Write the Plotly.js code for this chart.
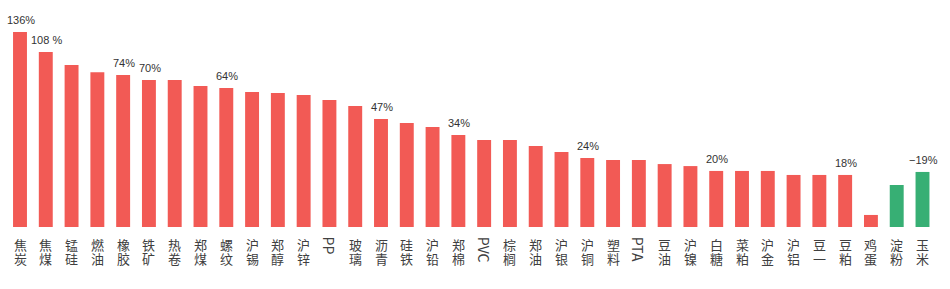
<!DOCTYPE html>
<html>
<head>
<meta charset="utf-8">
<script src="https://cdn.plot.ly/plotly-3.0.1.min.js"></script>
<style>html,body{margin:0;padding:0;background:#fff;}#chart{width:950px;height:289px;}</style>
</head>
<body>
<div id="chart"></div>
<script>
// Commodity names (x categories)
const categories = ['焦炭','焦煤','锰硅','燃油','橡胶','铁矿','热卷','郑煤','螺纹','沪锡','郑醇','沪锌','PP','玻璃','沥青','硅铁','沪铅','郑棉','PVC','棕榈','郑油','沪银','沪铜','塑料','PTA','豆油','沪镍','白糖','菜粕','沪金','沪铝','豆一','豆粕','鸡蛋','淀粉','玉米'];
// Change values as drawn by bar height (signed; negative drawn green)
const changes = [136,122,113,108,106,102.5,102.5,98.3,96.9,94.2,93.5,92.1,88.6,84.4,75.3,72.5,69.7,64.2,60.7,60.7,56.5,52.3,48.1,46.7,46.7,43.9,42.5,39.1,39.1,39.1,36.3,36.3,36.3,8.4,-29.3,-38.4];
// Value labels shown above selected bars
const valueLabels = ['136%','108 %','','','74%','70%','','','64%','','','','','','47%','','','34%','','','','','24%','','','','','20%','','','','','18%','','','−19%'];

const RED = '#F25A55', GREEN = '#37AF74';
const heights = changes.map(v => Math.abs(v));
const colors = changes.map(v => v >= 0 ? RED : GREEN);

const annotations = [];
valueLabels.forEach((t, i) => {
  if (!t) return;
  annotations.push({x: categories[i], y: heights[i], xref:'x', yref:'y', text: t, showarrow:false,
    yanchor:'bottom', xanchor:'center', yshift: 4, xshift: 1,
    font:{family:'Liberation Sans, Arial, sans-serif', size:11, color:'#333'}});
});
const pitch = 14;
categories.forEach((c) => {
  if (/^[A-Za-z]+$/.test(c)) {
    annotations.push({x: c, y: 0, xref:'x', yref:'y', text: c, showarrow:false, textangle: 90,
      yanchor:'top', xanchor:'center', yshift: -8,
      font:{family:'Noto Sans CJK SC, sans-serif', size:14, color:'#404040'}});
  } else {
    Array.from(c).forEach((ch, k) => {
      annotations.push({x: c, y: 0, xref:'x', yref:'y', text: ch, showarrow:false,
        yanchor:'top', xanchor:'center', yshift: -6 - k*pitch,
        font:{family:'Noto Sans CJK SC, sans-serif', size:13, color:'#404040'}});
    });
  }
});

const trace = {type:'bar', x: categories, y: heights, marker:{color: colors}, hoverinfo:'skip'};
const layout = {
  width:950, height:289,
  margin:{l:5, r:10, t:20, b:62},
  paper_bgcolor:'#fff', plot_bgcolor:'#fff',
  bargap:0.46,
  showlegend:false,
  xaxis:{showticklabels:false, showgrid:false, zeroline:false, showline:false, ticks:''},
  yaxis:{visible:false, range:[0, 144.4], showgrid:false, zeroline:false},
  annotations: annotations
};
Plotly.newPlot('chart', [trace], layout, {displayModeBar:false, staticPlot:true});
</script>
</body>
</html>
